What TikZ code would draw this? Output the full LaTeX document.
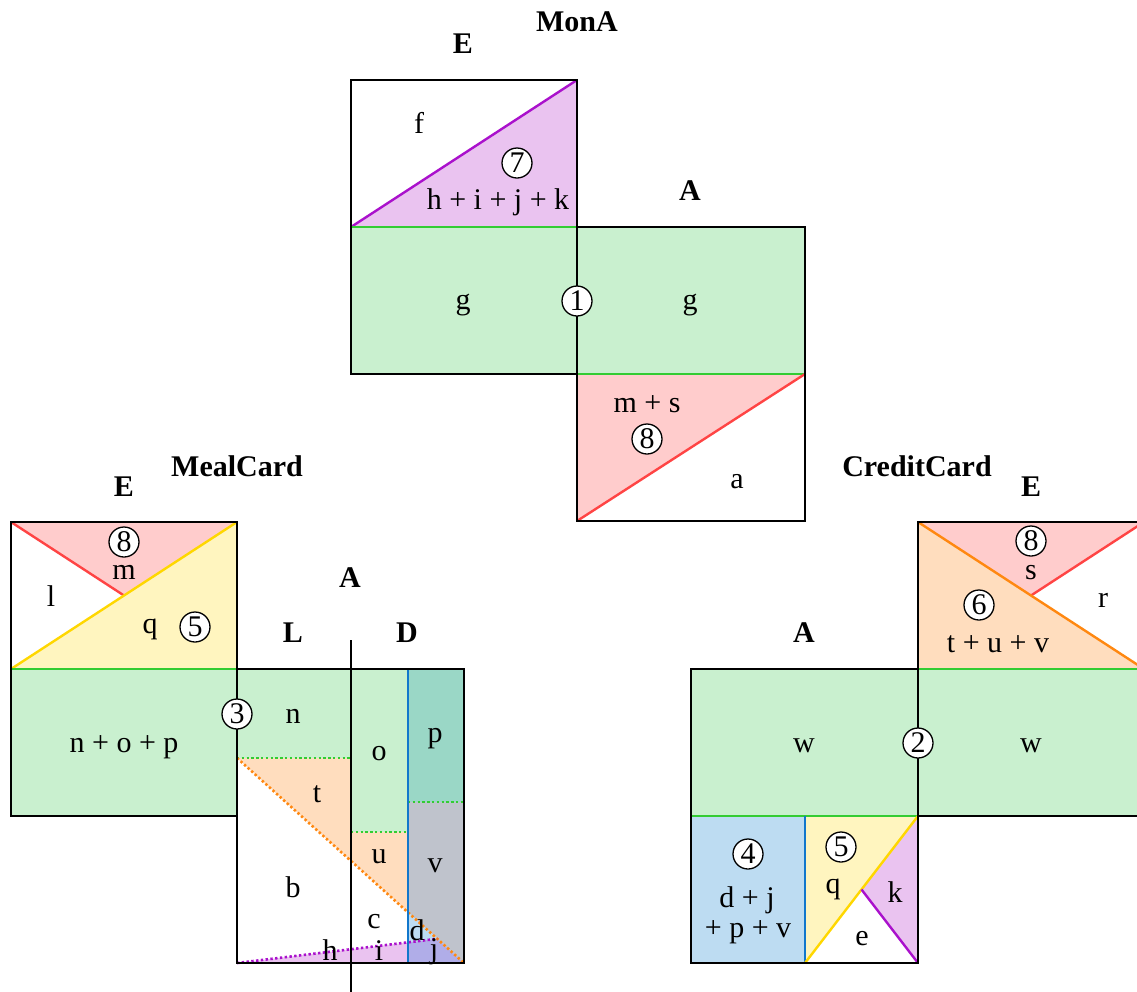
\documentclass[tikz,border=0pt]{standalone}
\usepackage{fontspec}
\setmainfont{Liberation Serif}
% line colours
\definecolor{gLine}{RGB}{51,204,51}
\definecolor{pLine}{RGB}{170,17,204}
\definecolor{rLine}{RGB}{255,68,68}
\definecolor{yLine}{RGB}{255,215,0}
\definecolor{oLine}{RGB}{255,136,17}
\definecolor{bLine}{RGB}{17,119,204}
% fill colours
\definecolor{gFill}{RGB}{201,240,207}
\definecolor{pFill}{RGB}{234,195,240}
\definecolor{rFill}{RGB}{255,204,204}
\definecolor{yFill}{RGB}{255,245,191}
\definecolor{oFill}{RGB}{255,221,190}
\definecolor{bFill}{RGB}{189,220,242}
\definecolor{tealFill}{RGB}{154,215,198}
\definecolor{grayFill}{RGB}{191,195,204}
\definecolor{lavFill}{RGB}{176,173,232}
\begin{document}
\begin{tikzpicture}[x=0.5pt,y=-0.5pt,
  lbl/.style={font=\fontsize{15}{18}\selectfont, anchor=base, inner sep=0pt},
  ttl/.style={font=\fontsize{15}{18}\selectfont\bfseries, anchor=base, inner sep=0pt},
  num/.style={circle, draw=black, fill=white, line width=0.65pt, minimum size=15pt,
    inner sep=0pt, font=\fontsize{15}{18}\selectfont},
  outline/.style={draw=black, line width=1.3pt},
  gl/.style={draw=gLine, line width=1.2pt},
  pl/.style={draw=pLine, line width=1.2pt},
  rl/.style={draw=rLine, line width=1.2pt},
  yl/.style={draw=yLine, line width=1.2pt},
  ol/.style={draw=oLine, line width=1.2pt},
  bl/.style={draw=bLine, line width=1.2pt},
  dots/.style={line width=1.3pt, dash pattern=on 1.2pt off 1.2pt},
]
\useasboundingbox (0,0) rectangle (1137,992);

% ================= MonA =================
\fill[gFill] (351,227) rectangle (577,374);
\fill[pFill] (351,227) -- (577,80) -- (577,227) -- cycle;
\fill[gFill] (577,227) rectangle (805,374);
\fill[rFill] (577,374) -- (805,374) -- (577,521) -- cycle;
\draw[pl] (351,227) -- (577,80);
\draw[gl] (351,227) -- (577,227);
\draw[gl] (577,374) -- (805,374);
\draw[rl] (805,374) -- (577,521);
\draw[outline] (351,80) rectangle (577,374);
\draw[outline] (577,227) rectangle (805,521);

\node[ttl] (monaT) at (577,31) {MonA};
\node[ttl] (monaE) at (463,53) {E};
\node[ttl] (monaA) at (690,200) {A};
\node[lbl] (monaF) at (419,133) {f};
\node[num] (monaC7) at (517,163) {7};
\node[lbl] (monaHIJK) at (498,209) {h + i + j + k};
\node[lbl] (monaG1) at (463,309) {g};
\node[lbl] (monaG2) at (690,309) {g};
\node[num] (monaC1) at (577,301) {1};
\node[lbl] (monaMS) at (647,412) {m + s};
\node[num] (monaC8) at (647,439) {8};
\node[lbl] (monaA2) at (737,488) {a};

% ================= MealCard =================
% E part
\fill[gFill] (11,669) rectangle (237,816);
\fill[yFill] (11,669) -- (237,522) -- (237,669) -- cycle;
\fill[rFill] (11,522) -- (237,522) -- (124,595.5) -- cycle;
\draw[rl] (11,522) -- (124,595.5);
\draw[yl] (11,669) -- (237,522);
\draw[gl] (11,669) -- (237,669);
\draw[outline] (11,522) rectangle (237,816);

% A part, split into L and D
\fill[gFill] (237,669) rectangle (351,758);
\fill[oFill] (237,758) -- (351,758) -- (351,861) -- cycle;
\fill[gFill] (351,669) rectangle (408,832);
\fill[oFill] (351,832) -- (408,832) -- (408,912.4) -- (351,861) -- cycle;
\fill[tealFill] (408,669) rectangle (464,802);
\fill[grayFill] (408,802) -- (464,802) -- (464,963) -- (408,912.4) -- cycle;
\fill[bFill] (408,912.4) -- (437.3,938.8) -- (408,942.4) -- cycle;
\fill[pFill] (237,963) -- (408,942.4) -- (408,963) -- cycle;
\fill[lavFill] (408,942.4) -- (437.3,938.8) -- (464,963) -- (408,963) -- cycle;

\draw[gl,dots] (237,758) -- (351,758);
\draw[gl,dots] (351,832) -- (408,832);
\draw[gl,dots] (408,802) -- (464,802);
\draw[ol,dots] (237,758) -- (464,963);
\draw[pl,dots] (237,963) -- (437.3,938.8);
\draw[bl] (408,669) -- (408,963);
\draw[outline] (237,669) rectangle (464,963);
\coordinate (cutTop) at (351,640);
\coordinate (cutBot) at (351,992);
\draw[outline] (cutTop) -- (cutBot);

\node[ttl] (mealT) at (237,476) {MealCard};
\node[ttl] (mealE) at (124,496) {E};
\node[num] (mealC8) at (124,542) {8};
\node[lbl] (mealM) at (124,579) {m};
\node[lbl] (mealL) at (51,606) {l};
\node[lbl] (mealQ) at (150,633) {q};
\node[num] (mealC5) at (195,627) {5};
\node[lbl] (mealNOP) at (124,752) {n + o + p};
\node[num] (mealC3) at (237,714) {3};
\node[ttl] (mealA) at (350,587) {A};
\node[ttl] (mealLL) at (293,642) {L};
\node[ttl] (mealDD) at (407,642) {D};
\node[lbl] (mealN) at (293,723) {n};
\node[lbl] (mealT2) at (317,802) {t};
\node[lbl] (mealB) at (293,897) {b};
\node[lbl] (mealO) at (379,760) {o};
\node[lbl] (mealU) at (379,863) {u};
\node[lbl] (mealC) at (374,928) {c};
\node[lbl] (mealH) at (330,960) {h};
\node[lbl] (mealI) at (379,960) {i};
\node[lbl] (mealP) at (435,742) {p};
\node[lbl] (mealV) at (435,872) {v};
\node[lbl] (mealD) at (417,940) {d};
\node[lbl] (mealJ) at (434,958) {j};

% ================= CreditCard =================
% E part
\fill[gFill] (918,669) rectangle (1144,816);
\fill[oFill] (918,522) -- (1144,669) -- (918,669) -- cycle;
\fill[rFill] (918,522) -- (1144,522) -- (1031,595.5) -- cycle;
\draw[rl] (1144,522) -- (1031,595.5);
\draw[ol] (918,522) -- (1144,669);
\draw[gl] (918,669) -- (1144,669);
\draw[outline] (918,522) rectangle (1144,816);

% A part
\fill[gFill] (691,669) rectangle (918,816);
\fill[bFill] (691,816) rectangle (805,963);
\fill[yFill] (805,816) -- (918,816) -- (805,963) -- cycle;
\fill[pFill] (918,816) -- (918,963) -- (861.5,889.5) -- cycle;
\draw[gl] (691,816) -- (918,816);
\draw[bl] (805,816) -- (805,963);
\draw[yl] (805,963) -- (918,816);
\draw[pl] (918,963) -- (861.5,889.5);
\draw[outline] (691,669) rectangle (918,963);

\node[ttl] (credT) at (917,476) {CreditCard};
\node[ttl] (credE) at (1031,496) {E};
\node[num] (credC8) at (1031,541) {8};
\node[lbl] (credS) at (1031,579) {s};
\node[lbl] (credR) at (1103,607) {r};
\node[num] (credC6) at (979,605) {6};
\node[lbl] (credTUV) at (998,652) {t + u + v};
\node[ttl] (credA) at (804,642) {A};
\node[lbl] (credW1) at (804,752) {w};
\node[lbl] (credW2) at (1031,752) {w};
\node[num] (credC2) at (918,743) {2};
\node[num] (credC4) at (748,854) {4};
\node[lbl] (credDJ) at (747,907) {d + j};
\node[lbl] (credPV) at (748,937) {+ p + v};
\node[num] (credC5) at (841,847) {5};
\node[lbl] (credQ) at (833,893) {q};
\node[lbl] (credK) at (895,902) {k};
\node[lbl] (credE2) at (862,945) {e};
\end{tikzpicture}
\end{document}
